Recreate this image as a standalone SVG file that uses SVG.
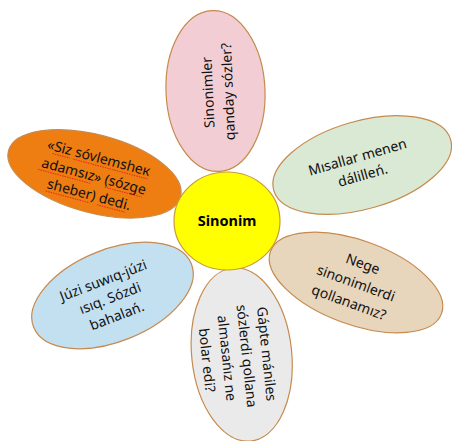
<svg xmlns="http://www.w3.org/2000/svg" width="452" height="441" viewBox="0 0 452 441">
<style>
.p{stroke:#C68A4E;stroke-width:1.2}
.t{font-family:"Noto Sans","Open Sans",sans-serif;font-size:14px;fill:#111;text-anchor:middle}
.c{font-family:"Noto Sans","Open Sans",sans-serif;font-size:14.5px;font-weight:bold;fill:#000;text-anchor:middle}
.sq{stroke:#E8281E;stroke-width:1;stroke-dasharray:1.5 1;fill:none}
</style>
<rect width="452" height="441" fill="#fff"/>
<g id="petal-top">
<ellipse class="p" cx="215.5" cy="91" rx="49.5" ry="80.5" transform="rotate(-2.5 215.5 91)" fill="#F2CED4"/>
<g transform="translate(218 92) rotate(-92.5)"><text class="t" y="-5">Sinonimler</text><text class="t" y="15">qanday sózler?</text></g>
</g>
<g id="petal-left">
<ellipse class="p" cx="94.5" cy="173.8" rx="89" ry="39" transform="rotate(15 94.5 173.8)" fill="#EE7D12" stroke="#C9702A"/>
<g transform="translate(94 176) rotate(15)">
<text class="t" y="-14">«Siz sóvlemshек</text>
<text class="t" y="5">adamsız» (sózge</text>
<text class="t" y="24">sheber) dedi.</text>
<path class="sq" d="M-46 -11H-28M-24.3 -11H53M-55.8 8H-1.5M13.3 8H51.6M-42.7 27H2.5M10.3 27H39"/>
</g>
</g>
<g id="petal-right">
<ellipse class="p" cx="362.2" cy="165" rx="92" ry="44" transform="rotate(-16 362.2 165)" fill="#DAE9D4"/>
<g transform="translate(360 166) rotate(-16)"><text class="t" y="-4.5">Mısallar menen</text><text class="t" y="14.5">dálilleń.</text></g>
</g>
<g id="petal-lower-right">
<ellipse class="p" cx="356" cy="282.5" rx="91" ry="42" transform="rotate(20 356 282.5)" fill="#E7D5BC"/>
<g transform="translate(356 283) rotate(20)"><text class="t" y="-15.5">Nege</text><text class="t" y="5">sinonimlerdi</text><text class="t" y="25.5">qollanamız?</text></g>
</g>
<g id="petal-lower-left">
<ellipse class="p" cx="112.5" cy="295.5" rx="85" ry="46" transform="rotate(-22 112.5 295.5)" fill="#C3E0F1"/>
<g transform="translate(110 298) rotate(-21)"><text class="t" y="-14">Júzi suwıq-júzi</text><text class="t" y="5">ısıq. Sózdi</text><text class="t" y="24">bahalań.</text></g>
</g>
<g id="petal-bottom">
<ellipse class="p" cx="241.7" cy="354.5" rx="50" ry="87" transform="rotate(-6 241.7 354.5)" fill="#EAEAEA"/>
<g transform="translate(237 357) rotate(84)"><text class="t" y="-25">Gápte mániles</text><text class="t" y="-5">sózlerdi qollana</text><text class="t" y="15">almasańız ne</text><text class="t" y="35">bolar edi?</text></g>
</g>
<g id="connectors"></g>
<g id="center">
<ellipse cx="227" cy="221" rx="53" ry="49" fill="#FFFF00" stroke="#C89A3C" stroke-width="1.2"/>
<text class="c" x="227" y="226">Sinonim</text>
</g>
</svg>
